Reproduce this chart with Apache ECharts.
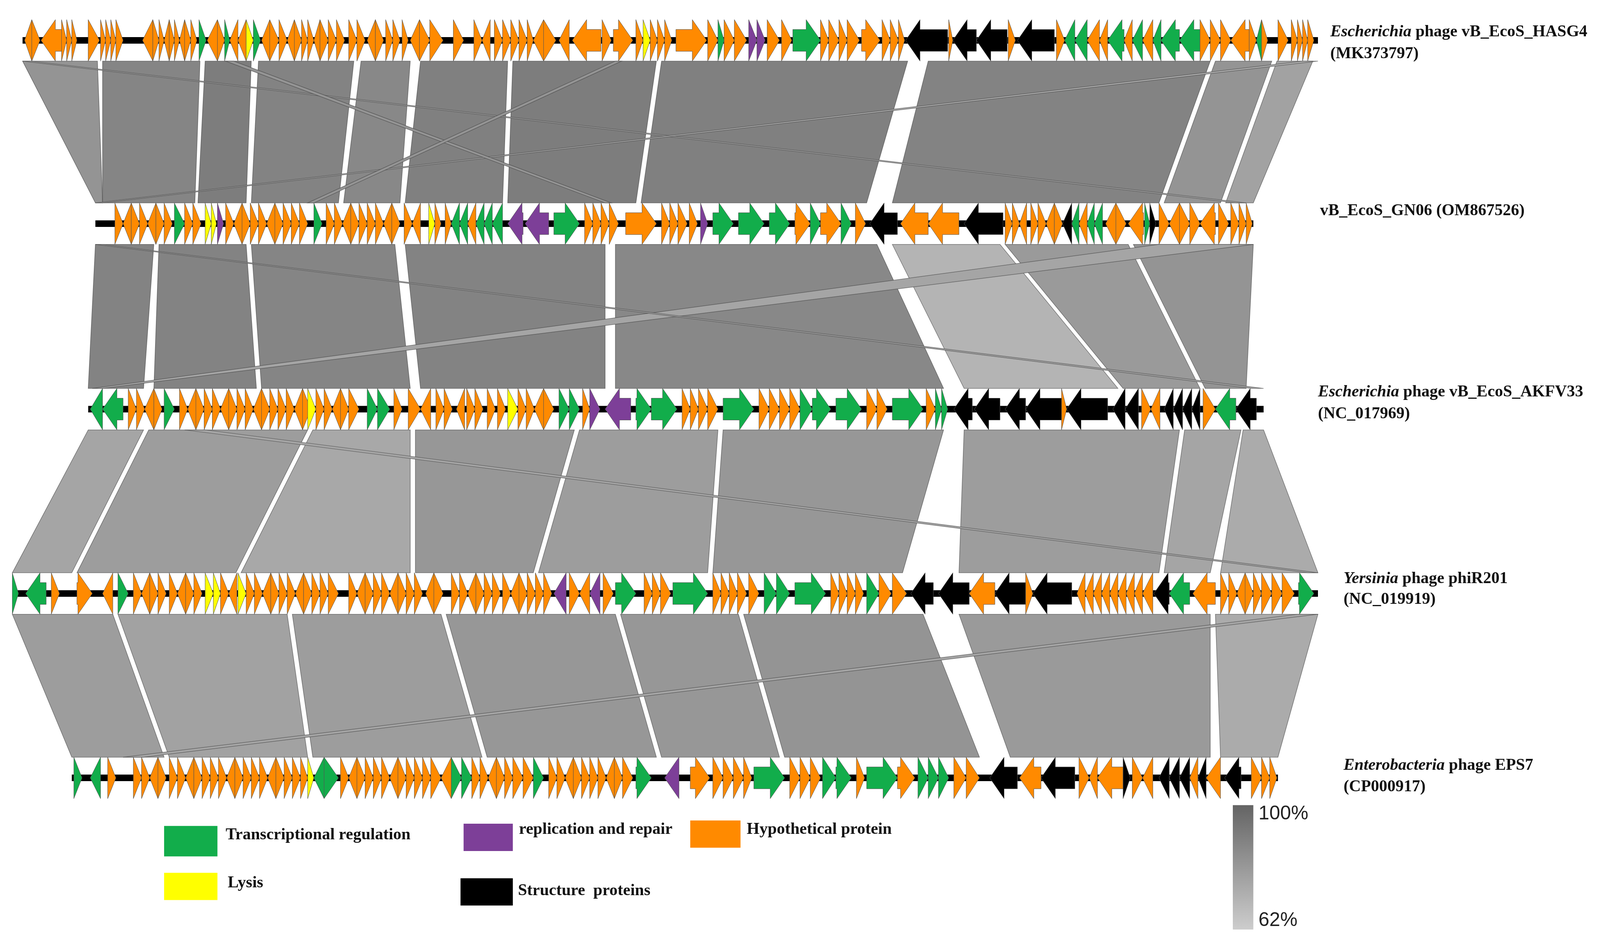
<!DOCTYPE html>
<html><head><meta charset="utf-8">
<script src="https://cdn.jsdelivr.net/npm/echarts@6/dist/echarts.min.js"></script>
<style>html,body{margin:0;padding:0;background:#fff;overflow:hidden}#c{width:100vw;height:100vh}</style>
</head><body><div id="c"></div>
<script>
// Layout units: reference picture in 1560 x 857 units (mapped through the axes)
const trackY = [37, 205, 375, 544, 713];
const trackStart = [22, 93, 86, 12, 70];
const trackEnd = [1285, 1222, 1232, 1285, 1246];
const trackNames = [
  ['Escherichia', ' phage vB_EcoS_HASG4', '(MK373797)'],
  ['', 'vB_EcoS_GN06 (OM867526)', ''],
  ['Escherichia', ' phage vB_EcoS_AKFV33', '(NC_017969)'],
  ['Yersinia', ' phage phiR201', '(NC_019919)'],
  ['Enterobacteria', ' phage EPS7', '(CP000917)']
];
const categories = ['Transcriptional regulation','replication and repair','Hypothetical protein','Lysis','Structure  proteins'];
const catColors = {g:'#12ad4b', p:'#7d3f98', o:'#ff8a00', y:'#ffff00', k:'#000000'};

// genes: [start, end, strand, category]
const genes1 = [[24,31,-1,'o'],[31,39,1,'o'],[40,60,-1,'o'],[60,65,1,'o'],[65,70,1,'o'],[70,75,1,'o'],[86,97,1,'o'],[98,103,1,'o'],[103,108,1,'o'],[108,113,1,'o'],[113,120,1,'o'],
[139,149,-1,'o'],[149,155,1,'o'],[155,160,1,'o'],[160,165,-1,'o'],[165,170,1,'o'],[170,175,1,'o'],[175,180,-1,'o'],[180,186,1,'o'],[186,192,1,'o'],[194,201,1,'g'],[202,212,-1,'o'],[212,219,1,'o'],[219,224,1,'g'],[224,232,-1,'o'],[232,240,-1,'o'],[240,247,1,'y'],[247,254,1,'g'],[255,263,-1,'o'],[263,272,1,'o'],[272,280,1,'o'],[280,287,-1,'o'],[287,294,1,'o'],[294,300,1,'o'],[300,306,1,'o'],[306,312,-1,'o'],[312,320,1,'o'],[320,328,1,'o'],[328,336,1,'o'],[340,348,1,'o'],[348,356,1,'o'],[358,366,-1,'o'],[366,374,1,'o'],[376,383,1,'o'],[383,390,1,'o'],[392,398,1,'o'],[400,409,-1,'o'],[409,419,1,'o'],[419,432,1,'o'],[442,452,1,'o'],[462,470,1,'o'],[470,478,-1,'o'],[482,490,1,'o'],[490,498,1,'o'],[498,506,1,'o'],[506,514,1,'o'],[514,520,1,'o'],[520,530,-1,'o'],[530,542,1,'o'],[545,555,-1,'o'],[558,586,-1,'o'],[587,596,1,'o'],[598,617,1,'o'],[620,627,1,'o'],[627,634,1,'y'],[634,641,1,'o'],[641,648,1,'o'],[648,655,1,'o'],[659,689,1,'o'],[690,700,1,'o'],[700,706,1,'g'],[706,716,1,'o'],[716,728,1,'o'],[730,738,1,'p'],[738,746,1,'p'],[748,760,1,'o'],[762,772,1,'o'],[773,800,1,'g'],
[800,808,1,'o'],[808,818,1,'o'],[818,826,1,'o'],[826,838,1,'o'],[840,858,1,'o'],[860,868,1,'o'],[868,876,1,'o'],[876,882,1,'o'],[883,924,-1,'k'],[925,929,1,'o'],[929,952,-1,'k'],[952,982,-1,'k'],[983,990,1,'o'],[992,1028,-1,'k'],
[1030,1038,1,'o'],[1038,1048,-1,'g'],[1048,1060,-1,'g'],[1060,1072,-1,'o'],[1072,1080,-1,'o'],[1080,1096,-1,'g'],[1096,1104,-1,'o'],[1104,1114,-1,'g'],[1114,1124,-1,'o'],[1124,1132,-1,'g'],[1132,1150,-1,'g'],[1150,1170,-1,'g'],[1170,1180,1,'o'],[1180,1190,1,'o'],[1190,1200,1,'o'],[1200,1218,-1,'o'],[1218,1225,1,'o'],[1225,1230,-1,'g'],[1230,1236,1,'o'],[1246,1256,1,'o'],[1259,1265,1,'o'],[1265,1270,1,'o'],[1270,1275,1,'o'],[1275,1281,1,'o']];

const genes2 = [[112,120,1,'o'],[120,128,-1,'o'],[128,136,1,'o'],[136,144,1,'o'],[144,152,-1,'o'],[152,160,1,'o'],[160,168,1,'o'],[170,180,1,'g'],[180,188,1,'o'],[188,196,1,'o'],[200,206,1,'y'],[206,211,1,'y'],[212,218,1,'p'],[220,228,1,'o'],[228,236,-1,'o'],[236,244,1,'o'],[244,252,1,'o'],[252,260,1,'o'],[260,268,-1,'o'],[268,276,1,'o'],[276,284,1,'o'],[284,292,1,'o'],[292,300,1,'o'],[306,314,1,'g'],[318,326,1,'o'],[326,334,1,'o'],[334,342,-1,'o'],[342,350,1,'o'],[350,358,1,'o'],[358,366,1,'o'],[366,374,1,'o'],[374,382,-1,'o'],[382,390,1,'o'],[394,402,1,'o'],[402,410,-1,'o'],[418,424,1,'y'],[424,430,1,'o'],[434,440,1,'o'],[440,448,-1,'g'],[448,456,-1,'g'],[456,464,-1,'o'],[464,472,-1,'g'],[472,480,-1,'g'],[480,490,-1,'g'],[495,510,-1,'p'],[512,535,-1,'p'],[540,565,1,'g'],[570,578,1,'o'],[578,586,1,'o'],[586,594,1,'o'],[594,603,1,'o'],[610,640,1,'o'],[645,653,1,'o'],[653,661,1,'o'],[661,670,1,'o'],[672,680,1,'o'],[683,690,1,'p'],[695,715,1,'g'],[720,745,1,'g'],[750,770,1,'g'],[775,790,1,'o'],[790,800,1,'g'],[800,820,1,'o'],[820,830,1,'g'],[834,844,1,'o'],[848,875,-1,'k'],[878,905,-1,'o'],[905,935,-1,'o'],[940,978,-1,'k'],[980,987,1,'o'],[987,994,1,'o'],[994,1001,-1,'o'],[1005,1012,1,'o'],[1012,1020,1,'o'],[1020,1028,-1,'o'],[1028,1036,1,'o'],[1036,1045,-1,'k'],[1045,1052,-1,'g'],[1052,1060,-1,'o'],[1060,1067,-1,'g'],[1067,1075,-1,'g'],[1078,1088,-1,'o'],[1088,1098,1,'o'],[1100,1115,-1,'o'],[1116,1121,1,'g'],[1121,1127,1,'k'],[1130,1140,1,'o'],[1140,1150,-1,'o'],[1150,1160,1,'o'],[1160,1170,1,'o'],[1170,1185,-1,'o'],[1188,1198,1,'o'],[1200,1208,1,'o'],[1208,1215,1,'o'],[1215,1221,1,'o']];

const genes3 = [[88,100,-1,'g'],[100,120,-1,'g'],[125,133,1,'o'],[133,141,1,'o'],[141,150,-1,'o'],[150,158,1,'o'],[160,170,1,'g'],[175,183,1,'o'],[183,191,-1,'o'],[191,199,1,'o'],[199,207,1,'o'],[207,215,1,'o'],[215,223,-1,'o'],[223,231,1,'o'],[231,239,1,'o'],[239,247,1,'o'],[247,255,-1,'o'],[255,263,1,'o'],[263,271,1,'o'],[271,279,1,'o'],[279,287,1,'o'],[287,295,-1,'o'],[295,303,1,'o'],[300,308,1,'y'],[308,316,1,'o'],[316,324,1,'o'],[324,332,-1,'o'],[332,340,1,'o'],[340,350,1,'o'],[358,368,1,'g'],[368,380,1,'g'],[384,392,1,'o'],[398,410,1,'o'],[410,420,-1,'o'],[425,433,1,'o'],[433,441,1,'o'],[445,453,-1,'o'],[455,463,1,'o'],[463,471,1,'o'],[475,483,1,'o'],[485,493,1,'o'],[495,505,1,'y'],[505,513,1,'o'],[513,521,1,'o'],[521,530,-1,'o'],[530,540,1,'o'],[545,555,1,'g'],[555,565,1,'g'],[568,575,1,'o'],[575,585,1,'p'],[590,615,-1,'p'],[620,635,1,'g'],[635,660,1,'g'],[665,673,1,'o'],[673,681,1,'o'],[681,690,1,'o'],[690,700,1,'o'],[705,735,1,'g'],[740,750,1,'o'],[750,760,1,'o'],[760,770,1,'o'],[770,780,1,'o'],[780,792,1,'g'],[792,810,1,'g'],[815,840,1,'g'],[845,855,1,'o'],[855,865,1,'o'],[870,900,1,'g'],[903,912,1,'o'],[912,918,1,'g'],[918,924,1,'g'],[930,948,-1,'k'],[950,975,-1,'k'],[980,1000,-1,'k'],[1000,1035,-1,'k'],[1035,1040,1,'o'],[1040,1080,-1,'k'],[1085,1097,-1,'k'],[1097,1110,-1,'k'],[1113,1122,1,'o'],[1122,1131,-1,'o'],[1135,1144,-1,'k'],[1144,1153,-1,'k'],[1153,1162,-1,'k'],[1162,1170,-1,'k'],[1173,1185,1,'o'],[1185,1205,-1,'g'],[1205,1225,-1,'k']];

const genes4 = [[12,18,1,'g'],[25,45,-1,'g'],[50,58,1,'o'],[75,90,1,'o'],[100,110,-1,'o'],[115,125,1,'g'],[130,138,1,'o'],[138,146,-1,'o'],[146,154,1,'o'],[154,162,1,'o'],[165,173,1,'o'],[173,181,-1,'o'],[181,189,1,'o'],[189,197,1,'o'],[200,208,1,'y'],[208,215,1,'y'],[215,223,1,'o'],[223,231,-1,'o'],[232,240,1,'y'],[240,248,1,'o'],[248,256,1,'o'],[256,264,-1,'o'],[264,272,1,'o'],[272,280,1,'o'],[280,288,1,'o'],[288,296,-1,'o'],[296,304,1,'o'],[304,312,1,'o'],[312,320,1,'o'],[320,330,1,'o'],[340,348,1,'o'],[348,356,-1,'o'],[356,364,1,'o'],[364,372,1,'o'],[372,380,1,'o'],[380,388,-1,'o'],[388,396,1,'o'],[396,404,1,'o'],[404,412,1,'o'],[415,423,-1,'o'],[423,432,1,'o'],[440,448,1,'o'],[448,456,1,'o'],[456,464,-1,'o'],[464,472,1,'o'],[472,480,1,'o'],[480,488,1,'o'],[490,498,1,'o'],[498,506,-1,'o'],[506,514,1,'o'],[514,522,1,'o'],[522,530,1,'o'],[530,538,1,'o'],[540,552,-1,'p'],[555,565,1,'o'],[565,575,-1,'o'],[575,585,-1,'p'],[588,598,1,'o'],[600,620,1,'g'],[628,636,1,'o'],[636,644,1,'o'],[644,654,1,'o'],[656,690,1,'g'],[695,703,1,'o'],[703,711,1,'o'],[711,719,1,'o'],[719,728,1,'o'],[730,740,1,'o'],[745,757,1,'g'],[757,770,1,'g'],[775,805,1,'g'],[810,818,1,'o'],[818,826,1,'o'],[826,834,1,'o'],[834,842,1,'o'],[845,857,1,'g'],[857,869,1,'o'],[870,884,1,'o'],[888,910,-1,'k'],[915,945,-1,'k'],[945,970,-1,'o'],[970,1000,-1,'k'],[1000,1007,1,'o'],[1007,1045,-1,'k'],[1050,1058,-1,'o'],[1058,1066,-1,'o'],[1066,1074,-1,'o'],[1074,1082,-1,'o'],[1082,1090,-1,'o'],[1090,1098,-1,'o'],[1098,1106,-1,'o'],[1106,1114,-1,'o'],[1114,1124,-1,'o'],[1125,1140,-1,'k'],[1140,1160,-1,'g'],[1163,1185,-1,'o'],[1190,1198,1,'o'],[1198,1206,1,'o'],[1206,1214,-1,'o'],[1214,1222,1,'o'],[1222,1230,1,'o'],[1230,1240,1,'o'],[1240,1250,1,'o'],[1250,1262,1,'o'],[1266,1281,1,'g']];

const genes5 = [[72,80,1,'g'],[88,98,-1,'g'],[105,113,1,'o'],[130,138,1,'o'],[138,146,1,'o'],[146,154,-1,'o'],[154,162,1,'o'],[165,173,1,'o'],[173,181,1,'o'],[181,189,-1,'o'],[189,197,1,'o'],[197,205,1,'o'],[205,213,1,'o'],[213,221,1,'o'],[221,229,-1,'o'],[229,237,1,'o'],[237,245,1,'o'],[245,253,1,'o'],[253,261,1,'o'],[261,269,-1,'o'],[269,277,1,'o'],[277,285,1,'o'],[285,293,1,'o'],[293,300,1,'o'],[300,306,1,'y'],[306,316,-1,'g'],[316,330,1,'g'],[332,340,1,'o'],[340,348,-1,'o'],[348,356,1,'o'],[356,364,1,'o'],[364,372,1,'o'],[372,380,1,'o'],[380,388,-1,'o'],[388,396,1,'o'],[396,404,1,'o'],[404,412,1,'o'],[412,420,1,'o'],[420,430,1,'o'],[430,440,-1,'o'],[440,450,1,'g'],[450,460,1,'g'],[460,468,1,'o'],[468,476,1,'o'],[476,484,-1,'o'],[484,492,1,'o'],[492,500,1,'o'],[500,510,1,'o'],[510,520,1,'o'],[520,530,1,'g'],[535,543,1,'o'],[543,551,1,'o'],[551,559,-1,'o'],[559,567,1,'o'],[567,575,1,'o'],[575,583,1,'o'],[583,591,1,'o'],[591,599,-1,'o'],[599,607,1,'o'],[607,617,1,'o'],[620,635,1,'g'],[648,662,-1,'p'],[673,692,1,'o'],[695,705,1,'o'],[705,715,1,'o'],[715,725,1,'o'],[725,733,1,'o'],[735,765,1,'g'],[770,780,1,'o'],[780,790,1,'o'],[790,800,1,'o'],[802,815,1,'g'],[815,830,1,'g'],[835,843,1,'o'],[845,875,1,'g'],[875,892,1,'o'],[895,905,1,'g'],[905,915,1,'g'],[915,925,1,'g'],[930,942,1,'o'],[942,955,1,'o'],[965,992,-1,'k'],[994,1015,-1,'o'],[1015,1048,-1,'k'],[1052,1062,1,'o'],[1062,1070,-1,'o'],[1070,1095,-1,'o'],[1095,1102,1,'k'],[1104,1114,1,'o'],[1114,1124,-1,'o'],[1130,1140,-1,'k'],[1140,1150,-1,'k'],[1150,1160,-1,'k'],[1160,1168,-1,'o'],[1168,1176,-1,'k'],[1176,1190,-1,'o'],[1194,1210,-1,'k'],[1220,1230,1,'o'],[1230,1238,1,'o'],[1238,1245,1,'o']];

// similarity bands between consecutive genomes: [topStart, topEnd, bottomStart, bottomEnd, identity %]
const bands12 = [[22,95,93,100,80],[100,195,100,190,85],[200,245,193,240,88],[252,345,245,330,86],[352,400,335,390,84],[410,495,395,490,87],[500,640,495,620,88],[645,885,625,845,87],[905,1180,870,1130,86],[1185,1240,1135,1190,80],[1245,1280,1195,1222,75],[22,30,1205,1215,72],[1270,1285,93,100,72],[220,228,590,596,80],[600,606,300,306,80]];
const bands23 = [[93,150,86,140,86],[155,240,150,250,86],[245,385,255,400,85],[395,590,410,590,86],[600,855,600,920,84],[870,975,940,1090,69],[980,1100,1095,1170,78],[1105,1222,1175,1215,80],[1130,1222,90,100,74],[93,100,1220,1232,74]];
const bands34 = [[86,140,12,70,74],[145,300,75,230,77],[305,400,235,400,73],[405,560,405,520,79],[565,700,525,690,77],[705,920,695,880,79],[940,1150,935,1130,77],[1155,1210,1135,1180,74],[1212,1232,1190,1285,72],[180,200,1275,1285,74]];
const bands45 = [[12,110,70,160,77],[115,280,165,300,75],[285,430,305,470,77],[435,600,475,640,79],[605,720,645,760,79],[725,900,765,955,80],[935,1180,985,1180,78],[1185,1285,1190,1246,72],[1265,1285,120,140,74]];
const scaleTicks = ['100%', '62%'];

const allGenes = [genes1, genes2, genes3, genes4, genes5];
const allBands = [bands12, bands23, bands34, bands45];

function gray(id){ const v = Math.round(200 - (id-62)/38*110); return 'rgb('+v+','+v+','+v+')'; }

const geneData = [];
allGenes.forEach((arr,t)=>arr.forEach(g=>geneData.push([g[0],g[1],g[2],t,g[3]])));
const bandData = [];
allBands.forEach((arr,t)=>arr.forEach(b=>bandData.push([b[0],b[1],b[2],b[3],b[4],t])));
const lineData = trackY.map((y,i)=>[trackStart[i], trackEnd[i], y]);

const chart = echarts.init(document.getElementById('c'));
const SX = chart.getWidth()/1560, SY = chart.getHeight()/857, S = Math.min(SX, SY);

const graphics = [];
const serif = '"Liberation Serif", "DejaVu Serif", serif';
const labelPos = [[1297,32,52],[1287,196,null],[1285,362,382],[1310,533,552],[1310,704,724]];
trackNames.forEach((n,i)=>{
  const p = labelPos[i];
  graphics.push({type:'text', left:p[0]*SX, top:(p[1]-10)*SY, style:{text:(n[0]?'{i|'+n[0]+'}':'')+'{b|'+n[1]+'}', rich:{i:{fontFamily:serif,fontWeight:'bold',fontStyle:'italic',fontSize:16*S,fill:'#111'}, b:{fontFamily:serif,fontWeight:'bold',fontSize:16*S,fill:'#111'}}}});
  if(n[2]) graphics.push({type:'text', left:p[0]*SX, top:(p[2]-10)*SY, style:{text:n[2], fontFamily:serif, fontWeight:'bold', fontSize:16*S, fill:'#111'}});
});
const legendItems = [[160,757,52,28,'g',0,220,768],[452,755,48,25,'p',1,506,763],[673,752,49,25,'o',2,728,763],[160,800,52,25,'y',3,222,812],[449,805,51,25,'k',4,505,819]];
legendItems.forEach(l=>{
  graphics.push({type:'rect', shape:{x:l[0]*SX,y:l[1]*SY,width:l[2]*SX,height:l[3]*SY}, style:{fill:catColors[l[4]]}});
  graphics.push({type:'text', left:l[6]*SX, top:(l[7]-10)*SY, style:{text:categories[l[5]], fontFamily:serif, fontWeight:'bold', fontSize:16*S, fill:'#111'}});
});
graphics.push({type:'rect', shape:{x:1202*SX,y:738*SY,width:20*SX,height:114*SY}, style:{fill:new echarts.graphic.LinearGradient(0,0,0,1,[{offset:0,color:'#646464'},{offset:1,color:'#cdcdcd'}])}});
graphics.push({type:'text', left:1227*SX, top:737*SY, style:{text:scaleTicks[0], fontFamily:'"Liberation Sans", Arial', fontSize:19*S, fill:'#222'}});
graphics.push({type:'text', left:1227*SX, top:835*SY, style:{text:scaleTicks[1], fontFamily:'"Liberation Sans", Arial', fontSize:19*S, fill:'#222'}});

const HALF = 19, BODY = 10, HEAD = 14;

chart.setOption({
  animation:false,
  grid:{left:0,right:0,top:0,bottom:0},
  xAxis:{type:'value',min:0,max:1560,show:false},
  yAxis:{type:'value',min:0,max:857,inverse:true,show:false},
  graphic: graphics,
  series:[
    {type:'custom', data:bandData, renderItem:(params,api)=>{
      const t = api.value(5);
      const yt = trackY[t]+HALF, yb = trackY[t+1]-HALF;
      const a = api.coord([api.value(0),yt]), b = api.coord([api.value(1),yt]);
      const c = api.coord([api.value(3),yb]), d = api.coord([api.value(2),yb]);
      const col = gray(api.value(4));
      return {type:'polygon', shape:{points:[a,b,c,d]}, style:{fill:col, stroke:'rgba(60,60,60,0.6)', lineWidth:1.5}};
    }},
    {type:'custom', data:lineData, renderItem:(params,api)=>{
      const a = api.coord([api.value(0), api.value(2)]), b = api.coord([api.value(1), api.value(2)]);
      const w = api.size([0,6])[1];
      return {type:'rect', shape:{x:a[0], y:a[1]-w/2, width:b[0]-a[0], height:w}, style:{fill:'#000'}};
    }},
    {type:'custom', data:geneData, renderItem:(params,api)=>{
      const y = trackY[api.value(3)];
      const dir = api.value(2);
      const p0 = api.coord([api.value(0), y]), p1 = api.coord([api.value(1), y]);
      const hh = api.size([0,HALF])[1], bh = api.size([0,BODY])[1], hl = api.size([HEAD,0])[0];
      const x0 = p0[0], x1 = p1[0], cy = p0[1], len = x1-x0;
      const h = Math.min(hl, len);
      let pts;
      if(dir>0){
        const xh = x1-h;
        pts = [[x0,cy-bh],[xh,cy-bh],[xh,cy-hh],[x1,cy],[xh,cy+hh],[xh,cy+bh],[x0,cy+bh]];
      } else {
        const xh = x0+h;
        pts = [[x1,cy-bh],[xh,cy-bh],[xh,cy-hh],[x0,cy],[xh,cy+hh],[xh,cy+bh],[x1,cy+bh]];
      }
      return {type:'polygon', shape:{points:pts}, style:{fill:catColors[api.value(4)], stroke:'#555', lineWidth:1}};
    }}
  ]
});
</script></body></html>
